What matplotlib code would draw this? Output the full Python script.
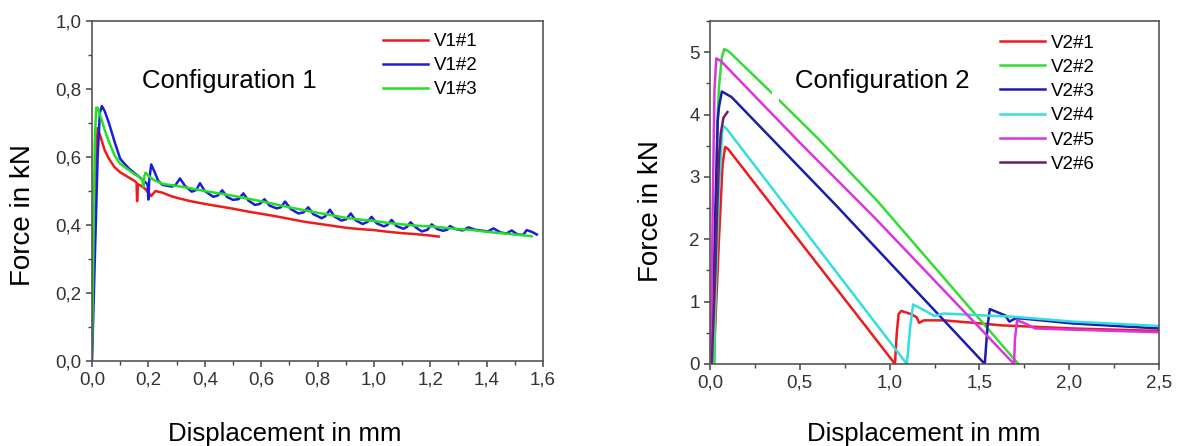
import matplotlib
matplotlib.use("Agg")
import matplotlib.pyplot as plt
from matplotlib.patches import Rectangle
from matplotlib.ticker import FuncFormatter, MultipleLocator

plt.rcParams["font.family"] = ["Liberation Sans", "DejaVu Sans"]

# ---- Configuration 1 (force in kN vs displacement in mm) ----
v1_1_x = [0.0, 0.005, 0.012, 0.02, 0.03, 0.045, 0.06, 0.08, 0.1, 0.12, 0.15, 0.158, 0.16, 0.163,
          0.175, 0.19, 0.205, 0.21, 0.225, 0.25, 0.28, 0.31, 0.35, 0.4, 0.45, 0.5, 0.55, 0.6,
          0.65, 0.7, 0.75, 0.8, 0.85, 0.9, 0.95, 1.0, 1.05, 1.1, 1.15, 1.2, 1.23]
v1_1_y = [0.03, 0.3, 0.55, 0.685, 0.66, 0.62, 0.595, 0.57, 0.555, 0.545, 0.53, 0.525, 0.47, 0.52,
          0.515, 0.505, 0.49, 0.485, 0.5, 0.495, 0.485, 0.478, 0.47, 0.462, 0.455, 0.448, 0.44,
          0.433, 0.426, 0.418, 0.41, 0.404, 0.398, 0.392, 0.388, 0.385, 0.38, 0.376, 0.373,
          0.369, 0.366]

v1_2_x = [0.0, 0.01, 0.02, 0.028, 0.035, 0.045, 0.06, 0.08, 0.1, 0.11, 0.13, 0.15, 0.17, 0.19,
          0.197, 0.2, 0.203, 0.21, 0.22, 0.235, 0.25, 0.283, 0.297, 0.312, 0.33, 0.354, 0.37,
          0.383, 0.40, 0.43, 0.447, 0.462, 0.48, 0.50, 0.52, 0.537, 0.555, 0.578, 0.595, 0.612,
          0.63, 0.655, 0.67, 0.685, 0.705, 0.732, 0.75, 0.767, 0.785, 0.815, 0.828, 0.844, 0.86,
          0.885, 0.902, 0.918, 0.935, 0.96, 0.977, 0.992, 1.01, 1.035, 1.048, 1.063, 1.08, 1.105,
          1.117, 1.13, 1.15, 1.17, 1.19, 1.205, 1.225, 1.245, 1.26, 1.27, 1.29, 1.315, 1.335,
          1.36, 1.405, 1.424, 1.45, 1.47, 1.489, 1.51, 1.53, 1.542, 1.56, 1.578]
v1_2_y = [0.0, 0.3, 0.6, 0.73, 0.75, 0.735, 0.7, 0.645, 0.595, 0.585, 0.567, 0.553, 0.54, 0.525,
          0.52, 0.475, 0.53, 0.578, 0.56, 0.53, 0.518, 0.513, 0.518, 0.537, 0.515, 0.498, 0.503,
          0.523, 0.5, 0.483, 0.487, 0.502, 0.482, 0.474, 0.476, 0.493, 0.472, 0.459, 0.462,
          0.476, 0.457, 0.449, 0.452, 0.469, 0.447, 0.434, 0.437, 0.452, 0.432, 0.42, 0.426,
          0.445, 0.425, 0.413, 0.417, 0.434, 0.414, 0.403, 0.409, 0.424, 0.405, 0.396, 0.4,
          0.415, 0.397, 0.389, 0.394, 0.408, 0.392, 0.381, 0.386, 0.402, 0.388, 0.383, 0.386,
          0.397, 0.388, 0.384, 0.393, 0.386, 0.381, 0.39, 0.378, 0.375, 0.384, 0.372, 0.371,
          0.385, 0.38, 0.372]

v1_3_x = [0.0, 0.005, 0.01, 0.015, 0.02, 0.03, 0.045, 0.06, 0.08, 0.1, 0.12, 0.15, 0.17, 0.178,
          0.182, 0.186, 0.19, 0.2, 0.22, 0.25, 0.3, 0.35, 0.4, 0.45, 0.5, 0.55, 0.6, 0.65, 0.7,
          0.75, 0.8, 0.85, 0.9, 0.95, 1.0, 1.05, 1.1, 1.15, 1.2, 1.25, 1.3, 1.35, 1.4, 1.45,
          1.5, 1.56]
v1_3_y = [0.02, 0.35, 0.65, 0.745, 0.745, 0.72, 0.68, 0.645, 0.605, 0.58, 0.568, 0.55, 0.54,
          0.535, 0.513, 0.545, 0.554, 0.545, 0.532, 0.521, 0.515, 0.508, 0.5, 0.493, 0.486,
          0.478, 0.47, 0.461, 0.452, 0.444, 0.436, 0.429, 0.421, 0.416, 0.412, 0.406, 0.402,
          0.398, 0.396, 0.392, 0.388, 0.385, 0.38, 0.376, 0.372, 0.367]

# ---- Configuration 2 ----
v2_1_x = [0.02, 0.05, 0.07, 0.084, 0.1, 1.03, 1.04, 1.05, 1.065, 1.12, 1.15, 1.165, 1.19, 1.3,
          1.51, 1.62, 2.02, 2.5]
v2_1_y = [0.0, 2.0, 3.2, 3.48, 3.45, 0.0, 0.5, 0.8, 0.85, 0.8, 0.75, 0.66, 0.7, 0.7, 0.65, 0.62,
          0.57, 0.53]

v2_2_x = [0.025, 0.035, 0.041, 0.05, 0.065, 0.079, 0.1, 0.12, 0.35, 0.6, 0.93, 1.717]
v2_2_y = [0.0, 2.5, 3.9, 4.44, 4.9, 5.05, 5.02, 4.97, 4.33, 3.62, 2.62, 0.0]

v2_3_x = [0.01, 0.03, 0.043, 0.05, 0.066, 0.09, 0.12, 0.7, 1.53, 1.545, 1.558, 1.643, 1.667, 1.7,
          1.736, 2.02, 2.5]
v2_3_y = [0.0, 2.5, 3.9, 4.12, 4.37, 4.33, 4.28, 2.55, 0.0, 0.6, 0.88, 0.78, 0.68, 0.73, 0.73,
          0.65, 0.57]

v2_4_x = [0.015, 0.03, 0.05, 0.07, 0.09, 1.096, 1.115, 1.131, 1.2, 1.25, 1.3, 1.51, 1.68, 2.02,
          2.5]
v2_4_y = [0.0, 1.0, 2.8, 3.82, 3.78, 0.0, 0.6, 0.955, 0.85, 0.77, 0.81, 0.78, 0.76, 0.68, 0.61]

v2_5_x = [0.005, 0.015, 0.025, 0.035, 0.06, 0.5, 0.912, 1.693, 1.698, 1.71, 1.755, 1.81, 2.02, 2.5]
v2_5_y = [0.0, 2.5, 4.4, 4.9, 4.86, 3.55, 2.36, 0.0, 0.4, 0.7, 0.65, 0.57, 0.55, 0.51]

v2_6_x = [0.01, 0.03, 0.04, 0.05, 0.06, 0.075, 0.097]
v2_6_y = [0.0, 1.5, 2.5, 3.3, 3.7, 3.95, 4.04]

labels_1 = ["V1#1", "V1#2", "V1#3"]
labels_2 = ["V2#1", "V2#2", "V2#3", "V2#4", "V2#5", "V2#6"]
colors_1 = ["#ec1c1c", "#1c1ce0", "#22e022"]
colors_2 = ["#ec1c1c", "#33dd33", "#1c1cb0", "#33dde0", "#dd33dd", "#6a1f66"]


def comma(fmt):
    return FuncFormatter(lambda v, _: format(v, fmt).replace(".", ","))


def style_axes(ax):
    for s in ax.spines.values():
        s.set_color("#555555")
        s.set_linewidth(1.2)
    ax.tick_params(which="both", direction="out", colors="#444444", labelcolor="#333333",
                   labelsize=13.5, top=False, right=False)
    ax.tick_params(which="major", length=4.5, width=1.1, pad=3)
    ax.tick_params(which="minor", length=2.6, width=1.0)


fig = plt.figure(figsize=(11.8, 4.46), dpi=100)
ax1 = fig.add_axes([92 / 1180, 85 / 446, 451 / 1180, 340 / 446])
ax2 = fig.add_axes([710 / 1180, 82 / 446, 449 / 1180, 343 / 446])

for xs, ys, c, lab in zip([v1_1_x, v1_2_x, v1_3_x], [v1_1_y, v1_2_y, v1_3_y], colors_1, labels_1):
    ax1.plot(xs, ys, color=c, lw=1.8, label=lab)
ax1.set_xlim(0, 1.6)
ax1.set_ylim(0, 1.0)
ax1.xaxis.set_major_locator(MultipleLocator(0.2))
ax1.xaxis.set_minor_locator(MultipleLocator(0.1))
ax1.yaxis.set_major_locator(MultipleLocator(0.2))
ax1.yaxis.set_minor_locator(MultipleLocator(0.1))
ax1.xaxis.set_major_formatter(comma(".1f"))
ax1.yaxis.set_major_formatter(comma(".1f"))
style_axes(ax1)
ax1.legend(loc="upper left", bbox_to_anchor=(0.645, 0.964), frameon=False, fontsize=13.5,
           handlelength=2.4, handletextpad=0.3, labelspacing=0.36, borderpad=0, borderaxespad=0)

v2_x = [v2_1_x, v2_2_x, v2_3_x, v2_4_x, v2_5_x, v2_6_x]
v2_y = [v2_1_y, v2_2_y, v2_3_y, v2_4_y, v2_5_y, v2_6_y]
for xs, ys, c, lab in zip(v2_x, v2_y, colors_2, labels_2):
    ax2.plot(xs, ys, color=c, lw=1.8, label=lab)
# small white patch hiding part of V2#2 (as in the source figure)
ax2.add_patch(Rectangle((0.345, 4.12), 0.038, 0.34, color="white", zorder=5, lw=0))
ax2.set_xlim(0, 2.5)
ax2.set_ylim(0, 5.5)
ax2.xaxis.set_major_locator(MultipleLocator(0.5))
ax2.xaxis.set_minor_locator(MultipleLocator(0.25))
ax2.yaxis.set_major_locator(MultipleLocator(1))
ax2.yaxis.set_minor_locator(MultipleLocator(0.5))
ax2.xaxis.set_major_formatter(comma(".1f"))
ax2.yaxis.set_major_formatter(comma(".0f"))
style_axes(ax2)
ax2.legend(loc="upper left", bbox_to_anchor=(0.646, 0.961), frameon=False, fontsize=13.5,
           handlelength=2.4, handletextpad=0.3, labelspacing=0.38, borderpad=0, borderaxespad=0)

fig.text(142 / 1180, 1 - 88 / 446, "Configuration 1", fontsize=18.5, va="baseline", ha="left")
fig.text(795 / 1180, 1 - 88 / 446, "Configuration 2", fontsize=18.5, va="baseline", ha="left")

fig.text(285 / 1180, 1 - 441 / 446, "Displacement in mm", fontsize=18.5, ha="center", va="baseline")
fig.text(924 / 1180, 1 - 441 / 446, "Displacement in mm", fontsize=18.5, ha="center", va="baseline")
fig.text(23 / 1180, 1 - 215 / 446, "Force in kN", fontsize=20, rotation=90, ha="center", va="center")
fig.text(651 / 1180, 1 - 211 / 446, "Force in kN", fontsize=20, rotation=90, ha="center", va="center")

fig.savefig("out.png", dpi=100)
plt.close(fig)
